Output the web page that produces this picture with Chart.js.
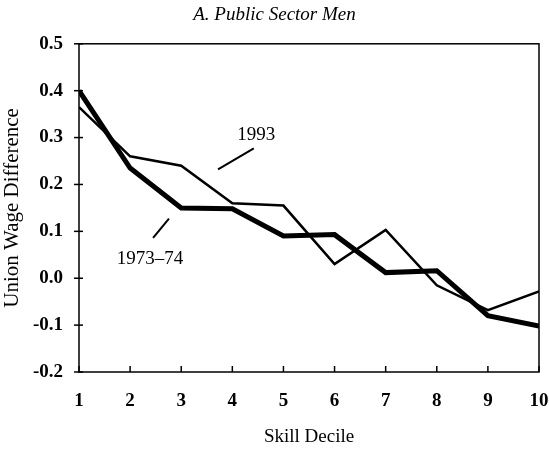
<!DOCTYPE html>
<html>
<head>
<meta charset="utf-8">
<script src="https://cdn.jsdelivr.net/npm/chart.js@4"></script>
<style>
  html, body { margin: 0; padding: 0; background: #fff; }
  #wrap { width: 549px; height: 452px; }
</style>
</head>
<body>
<div id="wrap"><canvas id="lineChart"></canvas></div>
<script>
// dados
const deciles = [1, 2, 3, 4, 5, 6, 7, 8, 9, 10];
const wage1973 = [0.40, 0.235, 0.15, 0.148, 0.09, 0.093, 0.012, 0.016, -0.08, -0.102];
const wage1993 = [0.365, 0.26, 0.24, 0.16, 0.155, 0.03, 0.103, -0.015, -0.068, -0.028];
const yTicks = [0.5, 0.4, 0.3, 0.2, 0.1, 0.0, -0.1, -0.2];

// rotulos com linha indicadora (em unidades dos eixos)
const labels = [
  { text: '1993', x: 4.47, y: 0.305, from: [3.72, 0.232], to: [4.42, 0.277] },
  { text: '1973\u201374', x: 2.39, y: 0.04, from: [2.45, 0.086], to: [2.76, 0.127] }
];

const serif = "'Liberation Serif', 'DejaVu Serif', serif";

// moldura, ticks internos do eixo X e rotulos das series
const extras = {
  id: 'extras',
  afterDraw(chart) {
    const { ctx, chartArea: a, scales: { x, y } } = chart;
    ctx.save();
    ctx.strokeStyle = '#000';
    ctx.lineWidth = 1.5;
    ctx.strokeRect(a.left, a.top, a.right - a.left, a.bottom - a.top);
    // ticks do eixo X para dentro
    deciles.forEach(d => {
      const px = x.getPixelForValue(d);
      ctx.beginPath();
      ctx.moveTo(px, a.bottom);
      ctx.lineTo(px, a.bottom - 6);
      ctx.stroke();
    });
    // ticks do eixo Y (cruzando o eixo)
    yTicks.forEach(v => {
      const py = y.getPixelForValue(v);
      ctx.beginPath();
      ctx.moveTo(a.left - 5, py);
      ctx.lineTo(a.left + 4, py);
      ctx.stroke();
    });
    ctx.fillStyle = '#000';
    ctx.font = '19px ' + serif;
    ctx.textAlign = 'center';
    ctx.textBaseline = 'middle';
    ctx.lineWidth = 2;
    labels.forEach(l => {
      ctx.fillText(l.text, x.getPixelForValue(l.x), y.getPixelForValue(l.y));
      ctx.beginPath();
      ctx.moveTo(x.getPixelForValue(l.from[0]), y.getPixelForValue(l.from[1]));
      ctx.lineTo(x.getPixelForValue(l.to[0]), y.getPixelForValue(l.to[1]));
      ctx.stroke();
    });
    ctx.restore();
  }
};

new Chart(document.getElementById('lineChart'), {
  type: 'line',
  data: {
    labels: deciles,
    datasets: [{
      label: '1973-74',
      data: wage1973,
      borderColor: '#000',
      borderWidth: 5,
      pointRadius: 0,
      tension: 0
    }, {
      label: '1993',
      data: wage1993,
      borderColor: '#000',
      borderWidth: 2.5,
      pointRadius: 0,
      tension: 0
    }]
  },
  options: {
    responsive: true,
    maintainAspectRatio: false,
    animation: false,
    layout: { padding: { left: 0, right: 0, top: 0, bottom: 4 } },
    plugins: {
      legend: { display: false },
      tooltip: { enabled: false },
      title: {
        display: true,
        text: 'A. Public Sector Men',
        color: '#000',
        font: { family: serif, size: 19, style: 'italic', weight: 'normal' },
        padding: { top: 4, bottom: 17 }
      }
    },
    scales: {
      x: {
        type: 'linear',
        min: 1,
        max: 10,
        grid: { display: false },
        border: { display: false },
        ticks: {
          stepSize: 1,
          color: '#000',
          padding: 10,
          font: { family: serif, size: 19, weight: 'bold' }
        },
        title: {
          display: true,
          text: 'Skill Decile',
          color: '#000',
          font: { family: serif, size: 19 },
          padding: { top: 8, bottom: 0 }
        },
        afterFit(scale) {
          scale.height = 76;
          scale.paddingRight = 10;
        }
      },
      y: {
        min: -0.2,
        max: 0.5,
        grid: { display: false },
        border: { display: false },
        afterBuildTicks(scale) { scale.ticks = yTicks.map(v => ({ value: v })); },
        ticks: {
          color: '#000',
          padding: 8,
          font: { family: serif, size: 19, weight: 'bold' },
          callback: v => v.toFixed(1)
        },
        title: {
          display: true,
          text: 'Union Wage Difference',
          color: '#000',
          font: { family: serif, size: 21 },
          padding: { top: 0, bottom: 2 }
        },
        afterFit(scale) { scale.width = 79; }
      }
    }
  },
  plugins: [extras]
});
</script>
</body>
</html>
